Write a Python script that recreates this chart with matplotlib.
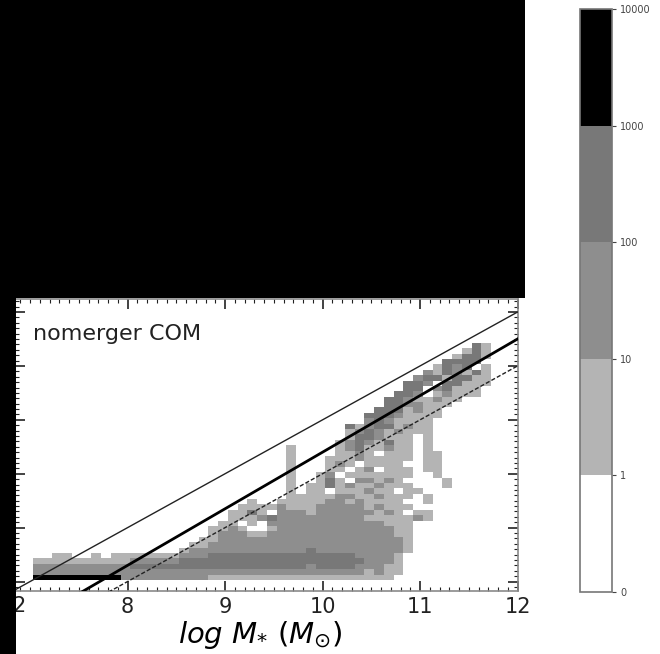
import numpy as np
import matplotlib
matplotlib.use("Agg")
import matplotlib.pyplot as plt
from matplotlib.colors import ListedColormap, BoundaryNorm
from matplotlib.patches import Rectangle
from matplotlib.ticker import MultipleLocator

# ---------------- data ----------------
x_start = 7.03          # left edge of first stellar-mass bin
y_start = 4.03          # bottom edge of first BH-mass bin
bin_w = 0.1
# count class per cell; rows listed top (high y) to bottom (row 0), 6 chunks of 8 columns
# '.' = 0, '1' = 1-10, '2' = 10-100, '3' = 100-1000, '4' = 1000-10000
E = "........"
grid_rows = [
    [E, E, E, E, E, ".....31."],
    [E, E, E, E, E, "....131."],
    [E, E, E, E, E, "...1331."],
    [E, E, E, E, E, "..3333.."],
    [E, E, E, E, E, ".1323.1."],
    [E, E, E, E, E, "2132131."],
    [E, E, E, E, ".......2", "3313311."],
    [E, E, E, E, "......33", "2.33111."],
    [E, E, E, E, "......33", ".23111.."],
    [E, E, E, E, ".....332", ".12111.."],
    [E, E, E, E, "....3321", "1211...."],
    [E, E, E, E, "....3322", "111....."],
    [E, E, E, E, "...33312", "11......"],
    [E, E, E, E, "..333211", "11......"],
    [E, E, E, E, "..232111", "1......."],
    [E, E, E, E, "31233121", "1......."],
    [E, E, E, E, "12321211", "1......."],
    [E, E, E, E, "1332111.", "1......."],
    [E, E, E, ".......1", "2321311.", "1......."],
    [E, E, E, "..1....1", "2311211.", "1......."],
    [E, E, E, "..1....1", "121.111.", "11......"],
    [E, E, E, "..1...11", "1211111.", "11......"],
    [E, E, E, "..1...12", "1.1111..", "11......"],
    [E, E, E, "..1...11", ".12.111.", "11......"],
    [E, E, E, "..1..12.", "1111111.", ".1......"],
    [E, E, E, "..1..131", ".22121..", "..1....."],
    [E, E, E, "..1.1131", "2112111.", "..1....."],
    [E, E, E, "..1.11.1", "11211.11", E],
    [E, E, E, "..111112", "2112111.", "1......."],
    [E, E, "......1.", ".1111122", "121111..", "1......."],
    [E, E, ".....111", "12111222", "2212111.", E],
    [E, E, "....1131", ".2221222", "222121.1", "1......."],
    [E, E, "....1112", "32222222", "22111112", "1......."],
    [E, E, "...11.1.", "22222222", "2222111.", E],
    [E, E, "..1121..", "12222222", "2222211.", E],
    [E, E, "..122211", "22222222", "2222211.", E],
    [E, E, ".1122222", "22222222", "2222221.", E],
    [E, E, "11222222", "22222222", "2222221.", E],
    [E, ".......1", "22222222", "22223222", "2222221.", E],
    ["..11..1.", "11111112", "22333333", "33333333", "322221..", E],
    ["11111111", "11222223", "33333333", "33333333", "332221..", E],
    ["22222222", "22333333", "33333333", "33332333", "322211..", E],
    ["22222222", "22222222", "22222222", "22222222", "221211..", E],
    ["44444444", "42222222", "22111111", "11111111", "11111...", E],
]
class_counts = {".": 0, "1": 5, "2": 50, "3": 500, "4": 5000}

cbar_bounds = [0, 1, 10, 100, 1000, 10000]
cbar_labels = ["0", "1", "10", "100", "1000", "10000"]
level_colors = ["#ffffff", "#b4b4b4", "#8e8e8e", "#787878", "#000000"]

x_ticks = [8, 9, 10, 11, 12]
x_range = (6.851, 12.0)
y_range = (3.825, 9.233)

# reference relations (log M_BH vs log M_*)
rv15_norm, rv15_slope, rv15_pivot = 7.45, 1.05, 11.0
ratio_upper = -3.0   # log(M_BH/M_*) = -3
ratio_lower = -4.0   # log(M_BH/M_*) = -4

panel_label = "nomerger COM"
x_label = r"$log\ M_{*}\ (M_{\odot})$"

# ---------------- figure ----------------
W, H = 660, 654
fig = plt.figure(figsize=(W / 100, H / 100), dpi=100, facecolor="white")

def fx(px):
    return px / W

def fy(py):
    return 1 - py / H

ax = fig.add_axes([fx(15.5), fy(591), fx(517.5) - fx(15.5), fy(299.5) - fy(591)])

rows = ["".join(r) for r in grid_rows][::-1]
ny, nx = len(rows), len(rows[0])
counts = np.array([[class_counts[c] for c in r] for r in rows], dtype=float)
xe = x_start + bin_w * np.arange(nx + 1)
ye = y_start + bin_w * np.arange(ny + 1)
cmap = ListedColormap(level_colors)
norm = BoundaryNorm(cbar_bounds, cmap.N)
masked = np.ma.masked_where(counts <= 0, counts)
mesh = ax.pcolormesh(xe, ye, masked, cmap=cmap, norm=norm, zorder=1)

xx = np.array(x_range)
ax.plot(xx, rv15_norm + rv15_slope * (xx - rv15_pivot), color="black", lw=2.0, zorder=3)
ax.plot(xx, xx + ratio_upper, color="#222222", lw=1.0, zorder=3)
ax.plot(xx, xx + ratio_lower, color="#222222", lw=1.0, ls=(0, (3, 1.5)), zorder=3)

ax.set_xlim(*x_range)
ax.set_ylim(*y_range)
ax.set_xticks(x_ticks)
ax.xaxis.set_minor_locator(MultipleLocator(0.1))
ax.yaxis.set_major_locator(MultipleLocator(1))
ax.yaxis.set_minor_locator(MultipleLocator(0.1))
ax.set_yticklabels([])
ax.tick_params(which="both", direction="in", top=True, right=True, colors="#222222")
ax.tick_params(which="major", length=7, width=1.2, labelsize=15, pad=4)
ax.tick_params(which="minor", length=3, width=0.8)
for s in ax.spines.values():
    s.set_color("#8a8a8a")
    s.set_linewidth(1.2)
ax.set_xlabel(x_label, fontsize=21)
ax.xaxis.set_label_coords(0.487, -0.097)
ax.text(0.035, 0.861, panel_label, transform=ax.transAxes, fontsize=16,
        va="baseline", ha="left", color="#222222")

# colour bar
cax = fig.add_axes([fx(580), fy(592), fx(612) - fx(580), fy(9) - fy(592)])
cb = fig.colorbar(mesh, cax=cax, boundaries=cbar_bounds, ticks=cbar_bounds, spacing="uniform")
cb.ax.set_yticklabels(cbar_labels)
cb.ax.tick_params(labelsize=7, length=3, width=0.8, colors="#444444", pad=3)
cb.outline.set_edgecolor("#777777")
cb.outline.set_linewidth(1.2)

# partial label peeking out at the left edge
fig.text(fx(19), fy(612), "2", fontsize=15, ha="center", va="baseline", color="#222222", zorder=5)

# black masked areas of the original picture
fig.add_artist(Rectangle((0, 0), fx(16), 1, transform=fig.transFigure,
                         facecolor="black", edgecolor="none", zorder=20))
fig.add_artist(Rectangle((0, fy(298)), fx(525), 1 - fy(298), transform=fig.transFigure,
                         facecolor="black", edgecolor="none", zorder=20))

fig.savefig("out.png", dpi=100, facecolor="white")
